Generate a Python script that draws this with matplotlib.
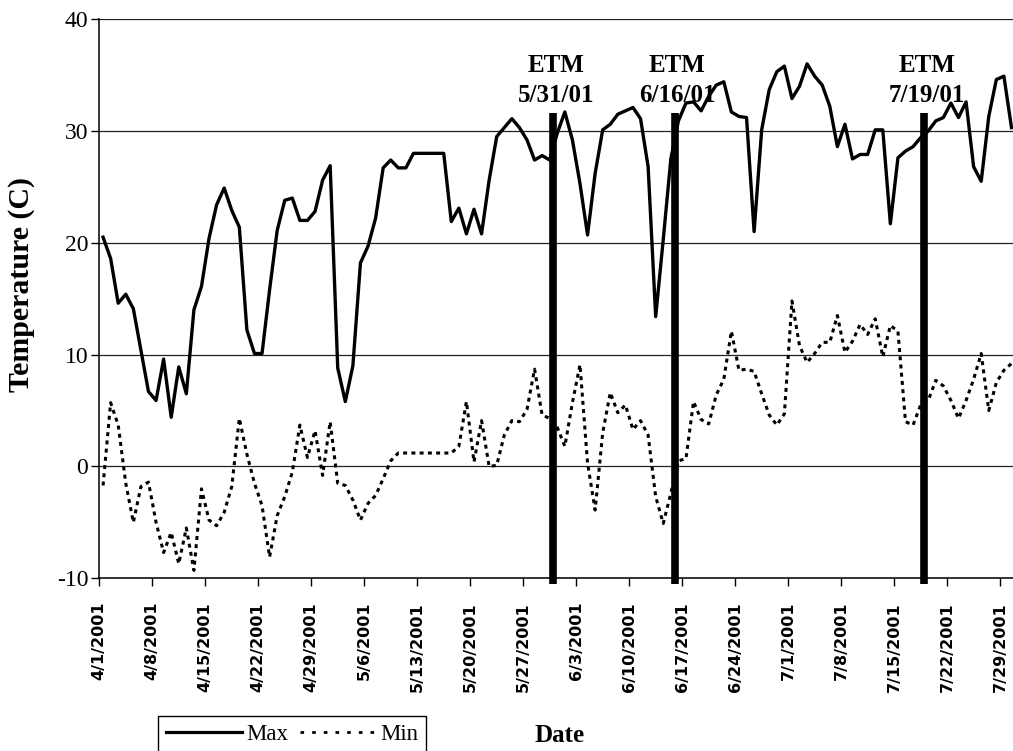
import numpy as np
import matplotlib.pyplot as plt
from matplotlib.lines import Line2D

# daily max / min temperature, 4/1/2001 .. 7/30/2001
max_temp = [20.5, 18.6, 14.6, 15.4, 14.1, 10.4, 6.7, 5.9, 9.6, 4.4,
            8.9, 6.5, 14.0, 16.1, 20.4, 23.4, 24.9, 22.9, 21.4, 12.2,
            10.1, 10.1, 15.8, 21.1, 23.8, 24.0, 22.0, 22.0, 22.8, 25.6,
            26.9, 8.8, 5.8, 9.0, 18.2, 19.7, 22.2, 26.7, 27.4, 26.7,
            26.7, 28.0, 28.0, 28.0, 28.0, 28.0, 21.9, 23.1, 20.8, 23.0,
            20.8, 25.6, 29.5, 30.3, 31.1, 30.3, 29.2, 27.4, 27.8, 27.4,
            29.8, 31.7, 29.2, 25.3, 20.7, 26.2, 30.1, 30.6, 31.5, 31.8,
            32.1, 31.1, 26.8, 13.4, 20.3, 27.5, 30.9, 32.5, 32.6, 31.8,
            33.1, 34.1, 34.4, 31.7, 31.3, 31.2, 21.0, 30.1, 33.7, 35.3,
            35.8, 32.9, 34.0, 36.0, 34.9, 34.1, 32.2, 28.6, 30.6, 27.5,
            27.9, 27.9, 30.1, 30.1, 21.7, 27.6, 28.2, 28.6, 29.4, 30.0,
            30.9, 31.2, 32.5, 31.2, 32.6, 26.8, 25.5, 31.3, 34.6, 34.9,
            30.3]

min_temp = [-1.7, 5.7, 3.7, -1.5, -5.0, -1.8, -1.4, -5.0, -7.7, -5.9,
            -8.7, -5.5, -9.3, -2.0, -4.8, -5.3, -4.1, -1.8, 4.3, 1.1,
            -1.5, -3.5, -8.1, -4.4, -2.7, -0.5, 3.7, 0.8, 3.2, -0.8,
            4.0, -1.5, -1.7, -3.0, -4.8, -3.3, -2.6, -1.1, 0.5, 1.2,
            1.2, 1.2, 1.2, 1.2, 1.2, 1.2, 1.2, 1.8, 5.8, 0.4,
            4.1, 0.0, 0.1, 2.8, 4.1, 4.0, 5.1, 8.7, 4.6, 4.3,
            3.5, 1.8, 5.7, 9.1, 0.3, -3.9, 3.0, 6.6, 4.8, 5.5,
            3.3, 4.1, 2.8, -2.7, -5.1, -2.4, 0.5, 0.7, 5.8, 4.2,
            3.8, 6.4, 7.8, 12.1, 8.6, 8.7, 8.5, 6.5, 4.6, 3.7,
            4.7, 14.8, 10.8, 9.3, 10.1, 11.1, 11.1, 13.5, 10.2, 11.2,
            12.7, 11.8, 13.2, 9.8, 12.6, 12.1, 4.0, 3.7, 5.5, 5.9,
            7.7, 7.2, 5.9, 4.3, 5.9, 7.8, 10.1, 5.0, 7.5, 8.6,
            9.2]

tick_labels = ['4/1/2001', '4/8/2001', '4/15/2001', '4/22/2001', '4/29/2001',
               '5/6/2001', '5/13/2001', '5/20/2001', '5/27/2001', '6/3/2001',
               '6/10/2001', '6/17/2001', '6/24/2001', '7/1/2001', '7/8/2001',
               '7/15/2001', '7/22/2001', '7/29/2001']

# ETM overpass dates, as days after 4/1/2001
etm_days = [60, 76, 109]
etm_labels = ['5/31/01', '6/16/01', '7/19/01']

serif = 'Liberation Serif'

# excel style: points sit between the day tick marks
days = np.arange(len(max_temp)) + 0.5

fig = plt.figure(figsize=(10.13, 7.51), dpi=100)
ax = fig.add_axes([0.098, 0.230, 0.902, 0.7445])

ax.plot(days, max_temp, color='black', lw=2.4)
ax.plot(days, min_temp, color='black', lw=2.2, dashes=(1.3, 1.4))

for d, lab in zip(etm_days, etm_labels):
    ax.plot([d, d], [-10.5, 31.6], color='black', lw=5.5,
            solid_capstyle='butt', clip_on=False, zorder=5)
    ax.text(d + 0.3, 35.25, 'ETM', ha='center', va='baseline',
            fontsize=18, fontweight='bold', family=serif)
    ax.text(d + 0.3, 32.6, lab, ha='center', va='baseline',
            fontsize=18, fontweight='bold', family=serif)

ax.set_xlim(0, 120.7)
ax.set_ylim(-10, 40)

ax.set_xticks(np.arange(0, 120, 7))
ax.set_xticklabels(tick_labels, rotation=90, fontsize=11.5,
                   fontweight='bold', family='DejaVu Sans')
ax.set_yticks(range(-10, 41, 10))
ax.set_yticklabels([str(v) for v in range(-10, 41, 10)],
                   fontsize=17, family=serif)
ax.tick_params(axis='x', direction='out', length=6, width=1, pad=11)
ax.tick_params(axis='y', direction='out', length=6, width=1, pad=2)

ax.grid(axis='y', color='#222222', lw=0.9)
ax.set_axisbelow(True)
for s in ['top', 'right']:
    ax.spines[s].set_visible(False)
for s in ['left', 'bottom']:
    ax.spines[s].set_linewidth(1.1)

ax.set_ylabel('Temperature (C)', fontsize=21.5, fontweight='bold',
              family=serif, va='center')
ax.yaxis.set_label_coords(-0.0846, 0.526)
ax.set_xlabel('Date', fontsize=18, fontweight='bold', family=serif,
              va='center')
ax.xaxis.set_label_coords(0.504, -0.281)

handles = [Line2D([], [], color='black', lw=2.3),
           Line2D([], [], color='black', lw=2.0, dashes=(1.3, 2.9))]
leg = ax.legend(handles, ['Max', 'Min'], ncol=2, loc='upper left',
                bbox_to_anchor=(0.1563, 0.0470),
                bbox_transform=fig.transFigure, borderaxespad=0,
                frameon=True, fancybox=False, edgecolor='black',
                framealpha=1, prop={'family': serif, 'size': 16.5},
                handlelength=3.3, handletextpad=0.2, columnspacing=0.5,
                borderpad=0.35)
leg.get_frame().set_linewidth(1.0)

fig.savefig('out.png', dpi=100)
